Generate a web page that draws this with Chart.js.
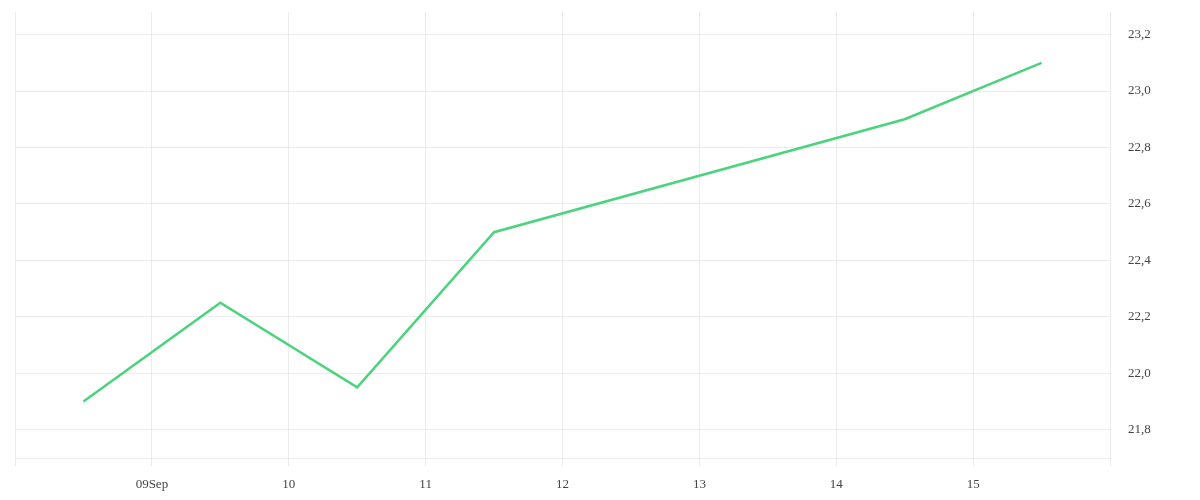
<!DOCTYPE html>
<html>
<head>
<meta charset="UTF-8">
<title>Temperature</title>
<style>
body { margin: 0; background: #fff; }
.chart-container { width: 1200px; height: 500px; position: relative; }
</style>
<script src="https://cdn.jsdelivr.net/npm/chart.js"></script>
</head>
<body>
	<div class="chart-container">
		<canvas id="line-chart"></canvas>
	</div>

	<script>
		// day of September (points sit at noon of each day)
		const days = [8, 9, 10, 11, 14, 15];
		const values = [21.9, 22.25, 21.95, 22.5, 22.9, 23.1];
		// x ticks at day boundaries
		const xTickDays = [8, 9, 10, 11, 12, 13, 14, 15, 16];
		const xTickLabels = ['', '09Sep', '10', '11', '12', '13', '14', '15', ''];
		const yTicks = [21.8, 22.0, 22.2, 22.4, 22.6, 22.8, 23.0, 23.2];

		const ctx = document.querySelector("#line-chart");
		const gridColor = '#ececec';
		const font = { family: "'Liberation Serif', serif", size: 13 };

		let data_temp = {
			label : 'value',
			data : days.map((d, i) => ({ x: d + 0.5, y: values[i] })),
			borderColor : 'rgb(76, 211, 125)',
			borderWidth : 2.5,
			pointRadius : 0,
			tension : 0,
			fill : false
		}

		let config = {
			type : 'line',
			data : { datasets : [ data_temp ] },
			options : {
				maintainAspectRatio : false,
				animation : false,
				layout : { padding : { left: 15, top: 12, right: 0, bottom: 0 } },
				plugins : { legend : { display : false }, tooltip : { enabled : false } },
				scales : {
					x : {
						type : 'linear',
						min : 8,
						max : 16,
						afterBuildTicks : s => { s.ticks = xTickDays.map(v => ({ value: v })); },
						afterFit : s => { s.height = 42; s.paddingLeft = 0; s.paddingRight = 0; },
						grid : { color : gridColor, tickLength : 8, tickColor : gridColor },
						border : { color : gridColor },
						ticks : {
							color : '#444',
							font : font,
							maxRotation : 0,
							autoSkip : false,
							padding : 11,
							callback : (v, i) => xTickLabels[i]
						}
					},
					y : {
						position : 'right',
						min : 21.7,
						max : 23.28,
						afterBuildTicks : s => { s.ticks = yTicks.map(v => ({ value: v })); },
						afterFit : s => { s.width = 90; s.paddingTop = 0; s.paddingBottom = 0; },
						grid : { color : gridColor, drawTicks : false },
						border : { color : gridColor },
						ticks : {
							color : '#444',
							font : font,
							padding : 18,
							callback : v => v.toFixed(1).replace('.', ',')
						}
					}
				}
			}
		}
		new Chart(ctx, config);
	</script>
</body>
</html>
